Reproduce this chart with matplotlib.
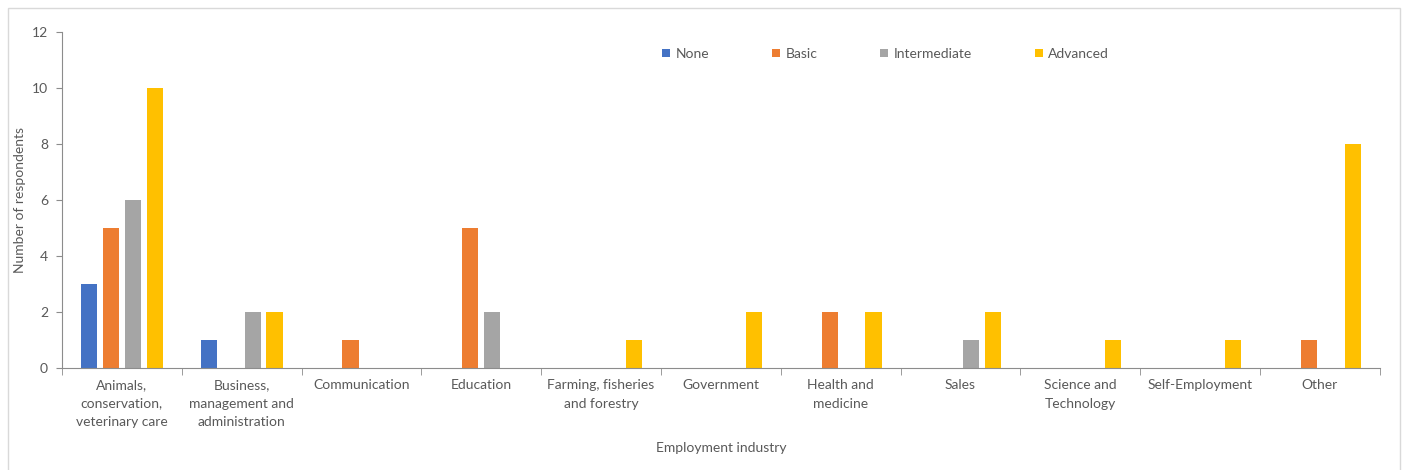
import numpy as np
import matplotlib
matplotlib.use("Agg")
import matplotlib.pyplot as plt
from matplotlib.patches import Rectangle

# categories and counts per skill level
industries = [
    "Animals,\nconservation,\nveterinary care",
    "Business,\nmanagement and\nadministration",
    "Communication",
    "Education",
    "Farming, fisheries\nand forestry",
    "Government",
    "Health and\nmedicine",
    "Sales",
    "Science and\nTechnology",
    "Self-Employment",
    "Other",
]
none_vals = [3, 1, 0, 0, 0, 0, 0, 0, 0, 0, 0]
basic_vals = [5, 0, 1, 5, 0, 0, 2, 0, 0, 0, 1]
intermediate_vals = [6, 2, 0, 2, 0, 0, 0, 1, 0, 0, 0]
advanced_vals = [10, 2, 0, 0, 1, 2, 2, 2, 1, 1, 8]
series_names = ["None", "Basic", "Intermediate", "Advanced"]
colors = ["#4472C4", "#ED7D31", "#A5A5A5", "#FFC000"]

text_col = "#595959"
axis_col = "#8C8C8C"
fs = 10
plt.rcParams["font.family"] = ["Lato", "DejaVu Sans"]

fig = plt.figure(figsize=(14.05, 4.7), dpi=100)
ax = fig.add_axes([0.0441, 0.217, 0.9379, 0.715])

# outer chart border
fig.patches.append(Rectangle((8 / 1405, -0.02), 1392 / 1405, 1 - 8 / 470 + 0.02,
                             transform=fig.transFigure, fill=False,
                             edgecolor="#D9D9D9", linewidth=1))

x = np.arange(len(industries))
step = 0.183
width = 0.135
all_vals = [none_vals, basic_vals, intermediate_vals, advanced_vals]
for i, (vals, name, c) in enumerate(zip(all_vals, series_names, colors)):
    ax.bar(x + (i - 1.5) * step, vals, width, color=c, label=name)

ax.set_xlim(-0.5, len(industries) - 0.5)
ax.set_ylim(0, 12)
ax.set_yticks(range(0, 13, 2))
ax.set_xticks(x)
ax.set_xticklabels(industries, fontsize=fs, color=text_col, linespacing=1.65)
ax.set_xticks(np.arange(-0.5, len(industries)), minor=True)
ax.tick_params(axis="x", which="major", length=0, pad=8)
ax.tick_params(axis="x", which="minor", length=5, color=axis_col)
ax.tick_params(axis="y", length=4, color=axis_col, labelsize=fs,
               labelcolor=text_col, pad=6)

for s in ["top", "right"]:
    ax.spines[s].set_visible(False)
for s in ["left", "bottom"]:
    ax.spines[s].set_color(axis_col)

ax.set_xlabel("Employment industry", fontsize=fs, color=text_col, labelpad=10)
ax.set_ylabel("Number of respondents", fontsize=fs, color=text_col, labelpad=4)

ax.legend(loc="upper center", bbox_to_anchor=(0.625, 0.99), ncol=4, frameon=False,
          fontsize=fs, labelcolor=text_col, handlelength=0.55, handleheight=0.55,
          handletextpad=0.4, columnspacing=4.55)

fig.savefig("out.png", dpi=100)
